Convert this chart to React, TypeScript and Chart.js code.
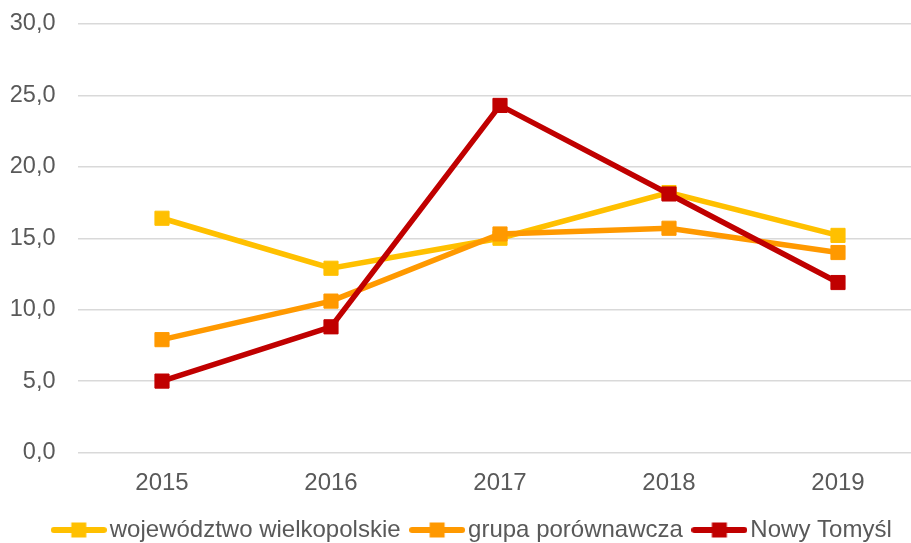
import React, { useEffect, useRef } from "react";
import { Chart, registerables } from "chart.js";
Chart.register(...registerables);

const years = ["2015", "2016", "2017", "2018", "2019"];
const seriesNames = ["województwo wielkopolskie", "grupa porównawcza", "Nowy Tomyśl"];
const wojewodztwo = [16.4, 12.9, 15.0, 18.2, 15.2];
const grupa = [7.9, 10.6, 15.3, 15.7, 14.0];
const nowyTomysl = [5.0, 8.8, 24.3, 18.1, 11.9];
const seriesColors = ["#FFC000", "#FF9900", "#C00000"];
const yMin = 0;
const yMax = 30;
const yStep = 5;

const FONT = "'Liberation Sans', Arial, sans-serif";
const TEXT = "#595959";
const LEGEND_SHIFT = 14.5;

function makeLegendIcon(color: string): HTMLCanvasElement {
  const c = document.createElement("canvas");
  c.width = 56;
  c.height = 16;
  const ctx = c.getContext("2d")!;
  ctx.strokeStyle = color;
  ctx.lineWidth = 6;
  ctx.lineCap = "round";
  ctx.beginPath();
  ctx.moveTo(3, 8);
  ctx.lineTo(53, 8);
  ctx.stroke();
  ctx.fillStyle = color;
  ctx.fillRect(20.5, 0.5, 15, 15);
  return c;
}

const shiftLegend = {
  id: "shiftLegend",
  afterLayout(chart: any) {
    if (chart.legend) {
      chart.legend.left += LEGEND_SHIFT;
      chart.legend.right += LEGEND_SHIFT;
    }
  },
};

export default function App() {
  const ref = useRef<HTMLCanvasElement | null>(null);
  useEffect(() => {
    if (!ref.current) return;
    const values = [wojewodztwo, grupa, nowyTomysl];
    const icons = seriesColors.map(makeLegendIcon);
    const chart = new Chart(ref.current, {
      type: "line",
      data: {
        labels: years,
        datasets: values.map((v, i) => ({
          label: seriesNames[i],
          data: v,
          borderColor: seriesColors[i],
          backgroundColor: seriesColors[i],
          borderWidth: 5.5,
          pointStyle: "rect",
          pointRadius: 10,
          pointBorderWidth: 1,
          pointBackgroundColor: seriesColors[i],
          pointBorderColor: seriesColors[i],
          tension: 0,
          order: 3 - i,
        })),
      },
      plugins: [shiftLegend],
      options: {
        animation: false,
        responsive: false,
        layout: { autoPadding: false, padding: { top: 24, left: 0, right: 22.5, bottom: 0 } },
        scales: {
          y: {
            min: yMin,
            max: yMax,
            afterFit: (s: any) => {
              s.width = 77.5;
              s.paddingTop = 0;
              s.paddingBottom = 0;
            },
            ticks: {
              stepSize: yStep,
              padding: 22,
              color: TEXT,
              font: { family: FONT, size: 23.5 },
              callback: (v: any) => Number(v).toFixed(1).replace(".", ","),
            },
            grid: { color: "#d9d9d9", lineWidth: 1.5, drawTicks: false },
            border: { display: false },
          },
          x: {
            offset: true,
            afterFit: (s: any) => {
              s.height = 48;
            },
            ticks: {
              padding: 16,
              color: TEXT,
              font: { family: FONT, size: 24 },
            },
            grid: { display: false, drawTicks: false, offset: true },
            border: { display: false },
          },
        },
        plugins: {
          tooltip: { enabled: false },
          legend: {
            position: "bottom",
            labels: {
              usePointStyle: true,
              pointStyleWidth: 38,
              padding: 17.5,
              color: TEXT,
              font: { family: FONT, size: 24 },
              sort: (a: any, b: any) => a.datasetIndex - b.datasetIndex,
              generateLabels: (ch: any) =>
                ch.data.datasets.map((d: any, i: number) => ({
                  text: d.label,
                  fillStyle: seriesColors[i],
                  strokeStyle: seriesColors[i],
                  lineWidth: 0,
                  pointStyle: icons[i],
                  hidden: false,
                  datasetIndex: i,
                  fontColor: TEXT,
                })),
            },
          },
        },
      },
    });
    return () => chart.destroy();
  }, []);
  return (
    <div
      style={{
        position: "fixed",
        left: 0,
        top: 0,
        width: 911,
        height: 543,
        overflow: "hidden",
        background: "#ffffff",
      }}
    >
      <canvas ref={ref} width={945} height={552} style={{ width: 945, height: 552, display: "block" }} />
    </div>
  );
}
